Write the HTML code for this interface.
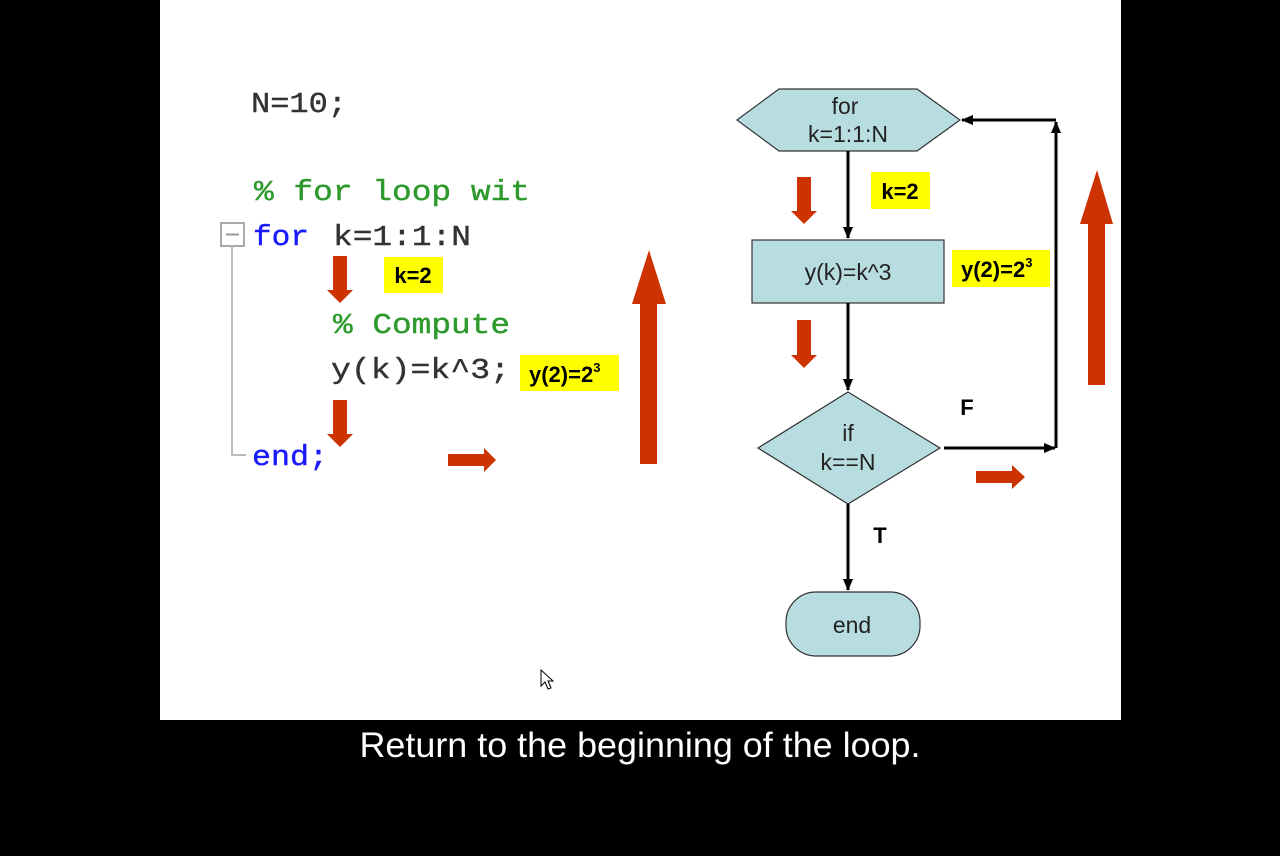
<!DOCTYPE html>
<html><head><meta charset="utf-8"><style>
html,body{margin:0;padding:0;background:#000;width:1280px;height:856px;overflow:hidden}
</style></head><body>
<svg width="1280" height="856" viewBox="0 0 1280 856" xmlns="http://www.w3.org/2000/svg">
<defs>
<marker id="ah" markerWidth="12" markerHeight="12" refX="11" refY="6" orient="auto" markerUnits="userSpaceOnUse">
<path d="M0,1 L12,6 L0,11 Z" fill="#000"/></marker>
</defs>
<rect x="0" y="0" width="1280" height="856" fill="#000"/>
<rect x="160" y="0" width="961" height="720" fill="#fff"/>
<g font-family="Liberation Mono, monospace" font-size="29" stroke-width="0.4">
<text x="251" y="112" fill="#333" stroke="#333" textLength="96" lengthAdjust="spacingAndGlyphs">N=10;</text>
<text x="254" y="200" fill="#2e9a2e" stroke="#2e9a2e" textLength="276" lengthAdjust="spacingAndGlyphs">% for loop wit</text>
<text x="253" y="245" fill="#1a1aff" stroke="#1a1aff" textLength="56" lengthAdjust="spacingAndGlyphs">for</text>
<text x="333" y="245" fill="#333" stroke="#333" textLength="138" lengthAdjust="spacingAndGlyphs">k=1:1:N</text>
<text x="333" y="333" fill="#2e9a2e" stroke="#2e9a2e" textLength="177" lengthAdjust="spacingAndGlyphs">% Compute</text>
<text x="331" y="378" fill="#333" stroke="#333" textLength="179" lengthAdjust="spacingAndGlyphs">y(k)=k^3;</text>
<text x="252" y="465" fill="#1a1aff" stroke="#1a1aff" textLength="76" lengthAdjust="spacingAndGlyphs">end;</text>
</g>
<rect x="221" y="223" width="23" height="23" fill="none" stroke="#aaa" stroke-width="2"/>
<line x1="226" y1="234.5" x2="239" y2="234.5" stroke="#999" stroke-width="2"/>
<polyline points="232,246 232,455 246,455" fill="none" stroke="#bbb" stroke-width="2"/>
<g fill="#cc3300">
<path d="M333,256 H347 V290 H353 L340,303 L327,290 H333 Z"/>
<path d="M333,400 H347 V434 H353 L340,447 L327,434 H333 Z"/>
<path d="M448,454 H484 V448 L496,460 L484,472 V466 H448 Z"/>
<path d="M640,464 V304 H632 L649,250 L666,304 H657 V464 Z"/>
<path d="M797,177 H811 V211 H817 L804,224 L791,211 H797 Z"/>
<path d="M797,320 H811 V355 H817 L804,368 L791,355 H797 Z"/>
<path d="M976,471 H1012 V465 L1025,477 L1012,489 V483 H976 Z"/>
<path d="M1088,385 V224 H1080 L1097,170 L1113,224 H1105 V385 Z"/>
</g>
<g font-family="Liberation Sans, sans-serif" font-weight="bold" font-size="22" fill="#000">
<rect x="384" y="257" width="59" height="36" fill="#ffff00"/>
<text x="413" y="283" text-anchor="middle">k=2</text>
<rect x="520" y="355" width="99" height="36" fill="#ffff00"/>
<text x="529" y="382">y(2)=2<tspan font-size="13" dy="-10">3</tspan></text>
<rect x="871" y="172" width="59" height="37" fill="#ffff00"/>
<text x="900" y="199" text-anchor="middle">k=2</text>
<rect x="952" y="250" width="98" height="37" fill="#ffff00"/>
<text x="961" y="277">y(2)=2<tspan font-size="13" dy="-10">3</tspan></text>
<text x="967" y="415" text-anchor="middle">F</text>
<text x="880" y="543" text-anchor="middle">T</text>
</g>
<g fill="#b8dde0" stroke="#333" stroke-width="1.2">
<polygon points="737,120 779,89 917,89 960,120 917,151 779,151"/>
<rect x="752" y="240" width="192" height="63"/>
<polygon points="848,392 940,448 848,504 758,448"/>
<rect x="786" y="592" width="134" height="64" rx="30" ry="30"/>
</g>
<g stroke="#000" stroke-width="3" fill="none">
<line x1="848" y1="151" x2="848" y2="238" marker-end="url(#ah)"/>
<line x1="848" y1="303" x2="848" y2="390" marker-end="url(#ah)"/>
<line x1="848" y1="504" x2="848" y2="590" marker-end="url(#ah)"/>
<line x1="944" y1="448" x2="1055" y2="448" marker-end="url(#ah)"/>
<line x1="1056" y1="448" x2="1056" y2="122" marker-end="url(#ah)"/>
<line x1="1056" y1="120" x2="962" y2="120" marker-end="url(#ah)"/>
</g>
<g font-family="Liberation Sans, sans-serif" font-size="23" fill="#222" text-anchor="middle">
<text x="845" y="114">for</text>
<text x="848" y="142">k=1:1:N</text>
<text x="848" y="280">y(k)=k^3</text>
<text x="848" y="441">if</text>
<text x="848" y="470">k==N</text>
<text x="852" y="633">end</text>
</g>
<path d="M541,670 L541,686 L545,682 L548,689 L551,688 L548,681 L553,681 Z" fill="#fff" stroke="#000" stroke-width="1"/>
<text x="640" y="757" font-family="Liberation Sans, sans-serif" font-size="35" fill="#fff" text-anchor="middle" textLength="561" lengthAdjust="spacingAndGlyphs">Return to the beginning of the loop.</text>
</svg>
</body></html>
